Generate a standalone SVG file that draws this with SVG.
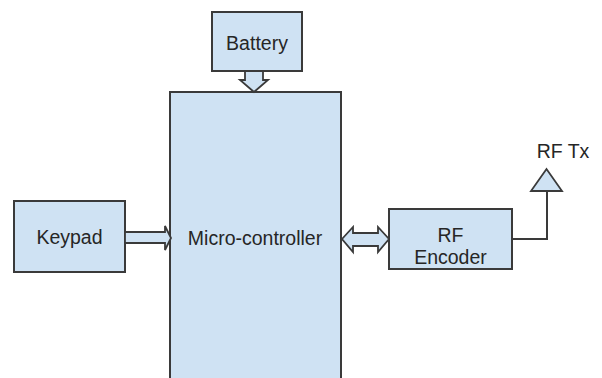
<svg xmlns="http://www.w3.org/2000/svg" width="602" height="378" viewBox="0 0 602 378">
<style>
.box{fill:#cfe2f3;stroke:#3a3a3a;stroke-width:2}
.arr{fill:#cfe2f3;stroke:#3a3a3a;stroke-width:1.8;stroke-linejoin:miter}
.ln{fill:none;stroke:#3a3a3a;stroke-width:2}
text{font-family:"Liberation Sans",Arial,sans-serif;font-size:19.5px;fill:#262626;text-anchor:middle}
</style>
<rect width="602" height="378" fill="#ffffff"/>
<g id="battery">
<rect class="box" x="212" y="12" width="90" height="59"/>
<text x="257" y="50">Battery</text>
</g>
<g id="micro-controller">
<rect class="box" x="170" y="92" width="171" height="300"/>
<text x="255" y="245">Micro-controller</text>
</g>
<g id="keypad">
<rect class="box" x="14" y="201" width="111" height="71"/>
<text x="69.5" y="244">Keypad</text>
</g>
<g id="rf-encoder">
<rect class="box" x="389" y="209" width="123" height="60"/>
<text x="450.5" y="242">RF</text>
<text x="450.5" y="264">Encoder</text>
</g>
<g id="rf-tx">
<polygon class="arr" points="531,191 562,191 546.5,169"/>
<text x="563" y="158">RF Tx</text>
</g>
<g id="connectors">
<polygon class="arr" points="245,71 263,71 263,80 268,80 254,92 240,80 245,80"/>
<polygon class="arr" points="125,232 165,232 165,226 171,238 165,250 165,243 125,243"/>
<polygon class="arr" points="342,239 353,227 353,233 378,233 378,227 389,239 378,252 378,246 353,246 353,252"/>
<polyline class="ln" points="512,239 547,239 547,191"/>
</g>
</svg>
